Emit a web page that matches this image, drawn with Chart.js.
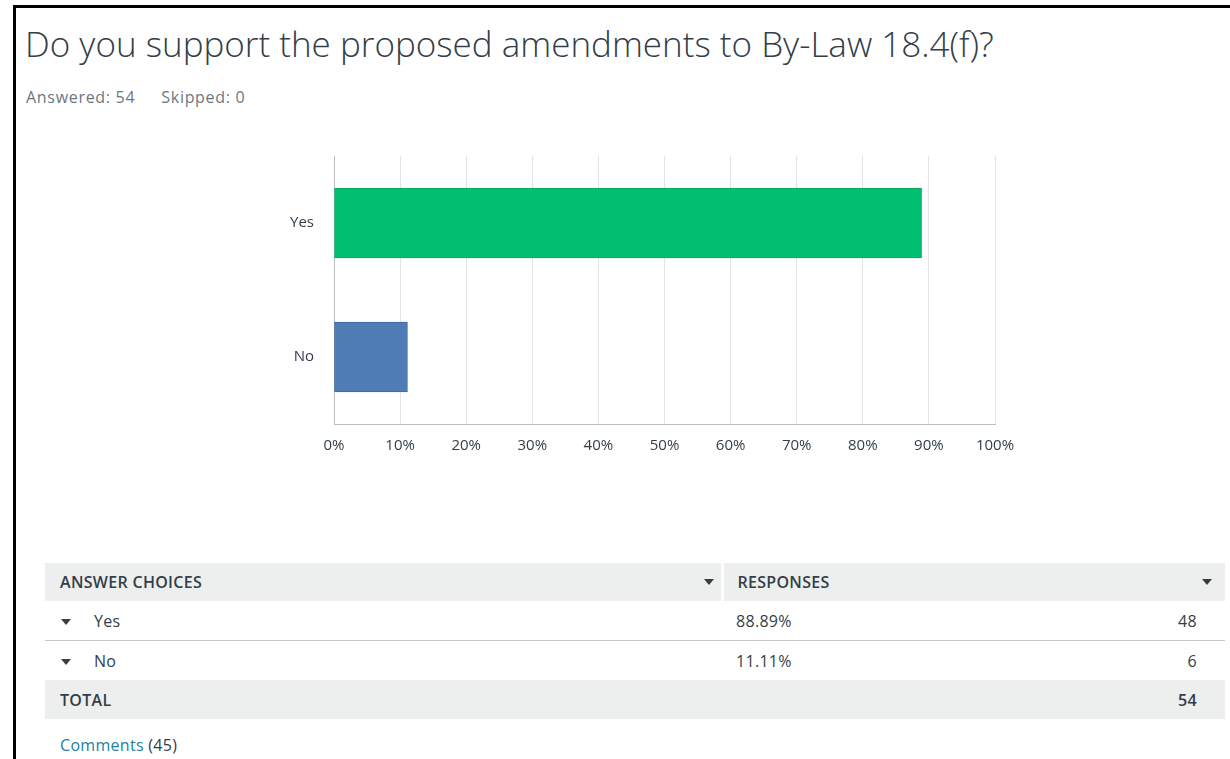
<!DOCTYPE html>
<html>
<head>
<meta charset="utf-8">
<script src="https://cdn.jsdelivr.net/npm/chart.js@4.4.1/dist/chart.umd.min.js"></script>
<style>
  html, body { margin: 0; padding: 0; background: #fff; }
  body { width: 1230px; height: 759px; position: relative; overflow: hidden;
         font-family: 'Open Sans', 'Noto Sans', sans-serif; color: #333e48; }
  .frame { position: absolute; left: 13px; top: 5px; right: 0; bottom: 0;
           border-top: 3px solid #000; border-left: 3px solid #000; }
  .title { position: absolute; left: 25px; top: 20px; font-size: 35px; font-weight: 300;
           line-height: normal; white-space: nowrap; }
  .meta { position: absolute; left: 26px; top: 86px; font-size: 16px; letter-spacing: 0.7px;
          color: #6b787f; line-height: normal; }
  .meta span + span { margin-left: 26px; }
  .chart-box { position: absolute; left: 200px; top: 140px; width: 850px; height: 330px; }
  table.resp { position: absolute; left: 45px; top: 563px; width: 1180px; border-collapse: collapse;
               table-layout: fixed; font-size: 16px; letter-spacing: 0.3px; }
  table.resp td { padding: 0; height: 39px; vertical-align: middle; white-space: nowrap; }
  tr.head td, tr.total td { background: #edeeee; font-weight: 600; }
  tr.head td { height: 38px; }
  tr.head td.c1 { border-right: 3px solid #fff; }
  tr.sep td { border-bottom: 1px solid #c8c8c8; }
  .c1 { padding-left: 15px !important; position: relative; }
  .c2 { padding-left: 14px !important; position: relative; }
  .c3 { text-align: right; padding-right: 28px !important; }
  .tri { display: inline-block; width: 0; height: 0; border-left: 5px solid transparent;
         border-right: 5px solid transparent; border-top: 6px solid #333e48; vertical-align: middle; }
  .head .tri { position: absolute; top: 16px; }
  .rowtri { margin: 0 23px 0 1px; }
  .comments { position: absolute; left: 60px; top: 734px; font-size: 16px; letter-spacing: 0.3px; }
  .comments a { color: #1d7fa6; text-decoration: none; }
</style>
</head>
<body>
<div class="frame"></div>
<div class="title">Do you support the proposed amendments to By-Law 18.4(f)?</div>
<div class="meta"><span>Answered: 54</span><span>Skipped: 0</span></div>
<div class="chart-box"><canvas id="surveyChart"></canvas></div>
<table class="resp" id="respTable"></table>
<div class="comments"><a>Comments</a> (45)</div>

<script>
// Survey results
const choices  = ['Yes', 'No'];
const percents = [88.89, 11.11];
const counts   = [48, 6];
const total    = 54;
const barFill   = ['#00bf6f', '#507cb6'];
const barBorder = ['#0fa563', '#3d66a0'];

// --- response table ---
const tbl = document.getElementById('respTable');
let html = '<colgroup><col style="width:677px"><col style="width:378px"><col style="width:125px"></colgroup>' +
           '<tr class="head"><td class="c1">ANSWER CHOICES<span class="tri" style="left:659px"></span></td>' +
           '<td class="c2" colspan="2">RESPONSES<span class="tri" style="left:478px"></span></td></tr>';
choices.forEach((c, i) => {
    html += '<tr' + (i === 0 ? ' class="sep"' : '') + '><td class="c1"><span class="tri rowtri"></span>' + c + '</td>' +
            '<td class="c2">' + percents[i].toFixed(2) + '%</td><td class="c3">' + counts[i] + '</td></tr>';
});
html += '<tr class="total"><td class="c1">TOTAL</td><td class="c2"></td><td class="c3">' + total + '</td></tr>';
tbl.innerHTML = html;

// --- bar chart ---
Chart.defaults.font.family = "'Open Sans', 'Noto Sans', sans-serif";
Chart.defaults.color = '#333e48';

new Chart(document.getElementById('surveyChart'), {
    type: 'bar',
    data: {
        labels: choices,
        datasets: [{
            data: percents,
            backgroundColor: barFill,
            borderColor: barBorder,
            borderWidth: 1,
            borderSkipped: false,
            barThickness: 70
        }]
    },
    options: {
        indexAxis: 'y',
        responsive: true,
        maintainAspectRatio: false,
        animation: false,
        layout: { padding: { left: 0, right: 55, top: 16, bottom: 0 } },
        plugins: { legend: { display: false }, tooltip: { enabled: false } },
        scales: {
            x: {
                min: 0,
                max: 100,
                ticks: { stepSize: 10, padding: 13, font: { size: 15 }, callback: v => v + '%' },
                grid: { color: '#e4e4e4', drawTicks: false },
                border: { color: '#bdbdbd' },
                afterFit: s => { s.height = 46; }
            },
            y: {
                ticks: { padding: 20, font: { size: 15 } },
                grid: { display: false, drawTicks: false },
                border: { color: '#bdbdbd' },
                afterFit: s => {
                    s.width = 134;
                    // labels sit mid-band, so no extra room above/below the plot
                    s.paddingTop = 0;
                    s.paddingBottom = 0;
                }
            }
        }
    }
});
</script>
</body>
</html>
